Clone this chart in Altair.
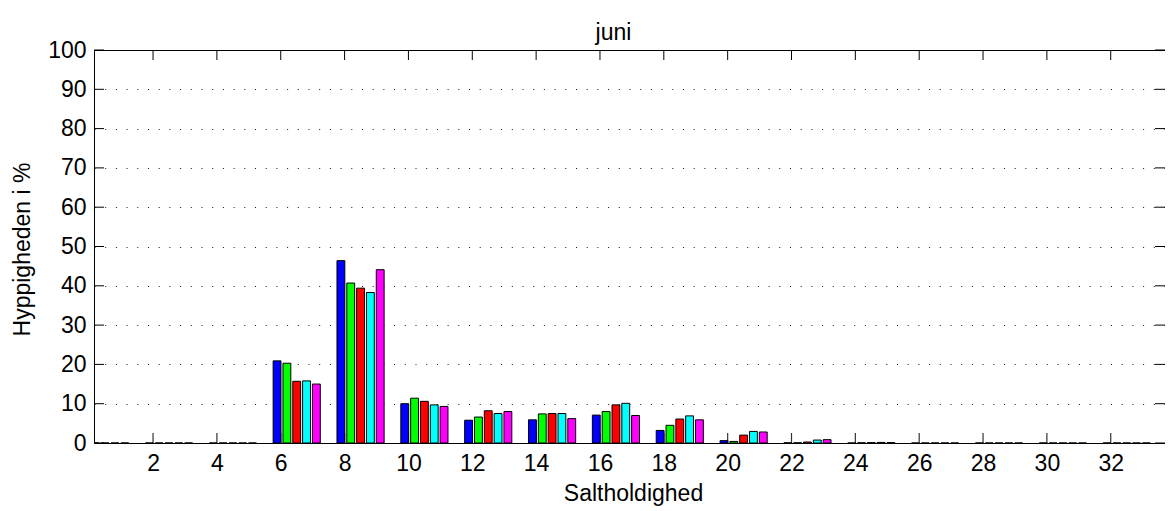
import altair as alt
import pandas as pd

# ---- data ----
bin_centers = [0.5, 2.5, 4.5, 6.5, 8.5, 10.5, 12.5, 14.5, 16.5, 18.5,
               20.5, 22.5, 24.5, 26.5, 28.5, 30.5, 32.5]
series_names = ["s1", "s2", "s3", "s4", "s5"]
series_colors = ["#0000ff", "#00ff00", "#ff0000", "#00ffff", "#ff00ff"]
blue = [0, 0, 0, 20.9, 46.4, 10.0, 5.8, 5.9, 7.1, 3.2, 0.6, 0.05, 0, 0, 0, 0, 0]
green = [0, 0, 0, 20.3, 40.7, 11.4, 6.6, 7.4, 8.0, 4.5, 0.4, 0.05, 0.05, 0, 0, 0, 0]
red = [0, 0, 0, 15.7, 39.4, 10.6, 8.2, 7.5, 9.7, 6.1, 2.0, 0.25, 0.1, 0, 0, 0, 0]
cyan = [0, 0, 0, 15.8, 38.3, 9.7, 7.5, 7.5, 10.1, 6.9, 2.95, 0.75, 0.15, 0, 0, 0, 0]
magenta = [0, 0, 0, 15.0, 44.1, 9.3, 8.0, 6.2, 7.0, 5.9, 2.8, 0.85, 0.1, 0, 0, 0, 0]
series_values = [blue, green, red, cyan, magenta]

x_ticks = list(range(2, 33, 2))
y_ticks = list(range(0, 101, 10))

title_text = "juni"
x_title = "Saltholdighed"
y_title = "Hyppigheden i %"

# ---- build table (grouped bar layout like MATLAB bar()) ----
n = len(series_names)
group_width = 2 * n / (n + 1.5)
slot = group_width / n
bar_w = 0.8 * slot
rows = []
for si, (name, vals) in enumerate(zip(series_names, series_values)):
    for c, v in zip(bin_centers, vals):
        mid = c - group_width / 2 + (si + 0.5) * slot
        rows.append({"series": name, "x0": mid - bar_w / 2, "x1": mid + bar_w / 2, "value": v})
df = pd.DataFrame(rows)

W, H = 1071, 393
FONT = "Liberation Sans"
FS = 23

xscale = alt.Scale(domain=[0.15, 33.7], nice=False, zero=False)
yscale = alt.Scale(domain=[0, 100], nice=False)

x_axis = alt.Axis(values=x_ticks, title=x_title, grid=False, ticks=False, domain=False,
                  labelFont=FONT, labelFontSize=FS, labelColor="#000000",
                  labelPadding=9, titleFont=FONT, titleFontSize=FS,
                  titleFontWeight="normal", titleColor="#000000",
                  titleX=539, titleY=57, titleBaseline="alphabetic", labelFlush=False)
y_axis = alt.Axis(values=y_ticks, title=y_title, grid=True, gridColor="#000000",
                  gridDash=[1, 9.7], gridWidth=1, gridOpacity=0.9,
                  ticks=False, domain=False, labelFont=FONT, labelFontSize=FS,
                  labelColor="#000000", labelPadding=8, labelFlush=False,
                  titleFont=FONT, titleFontSize=FS, titleFontWeight="normal",
                  titleColor="#000000", titleX=-72, titleY=199,
                  titleBaseline="middle", titleAngle=270)

xt = pd.DataFrame({"t": x_ticks})
yt = pd.DataFrame({"t": y_ticks})

# inward ticks
xt_bottom = alt.Chart(xt).mark_rule(color="#333333", strokeWidth=1.2).encode(
    x=alt.X("t:Q", scale=xscale, axis=x_axis), y=alt.value(H - 10), y2=alt.value(H))
xt_top = alt.Chart(xt).mark_rule(color="#000000", strokeWidth=1).encode(
    x=alt.X("t:Q", scale=xscale, axis=x_axis), y=alt.value(0), y2=alt.value(10))
yt_left = alt.Chart(yt).mark_rule(color="#000000", strokeWidth=1).encode(
    y=alt.Y("t:Q", scale=yscale, axis=y_axis), x=alt.value(0), x2=alt.value(10))
yt_right = alt.Chart(yt).mark_rule(color="#000000", strokeWidth=1).encode(
    y=alt.Y("t:Q", scale=yscale, axis=y_axis), x=alt.value(W - 10), x2=alt.value(W))

bars = alt.Chart(df).mark_bar(stroke="#000000", strokeWidth=1, clip=True).encode(
    x=alt.X("x0:Q", scale=xscale, axis=x_axis),
    x2="x1:Q",
    y=alt.Y("value:Q", scale=yscale, axis=y_axis),
    y2=alt.datum(0),
    color=alt.Color("series:N", scale=alt.Scale(domain=series_names, range=series_colors),
                    legend=None),
)

chart = alt.layer(xt_bottom, xt_top, yt_left, yt_right, bars).properties(
    width=W, height=H,
    background="#ffffff",
    title=alt.Title(title_text, font=FONT, fontSize=FS, fontWeight="normal", color="#000000",
                    dx=-16, dy=33, offset=9, baseline="alphabetic", frame="group"),
    autosize=alt.AutoSizeParams(type="none"),
    padding={"left": 86, "top": 42, "right": 0, "bottom": 68},
).configure_view(stroke="#000000", strokeWidth=1)

chart.save("out.html", embed_options={"renderer": "svg", "actions": False})
